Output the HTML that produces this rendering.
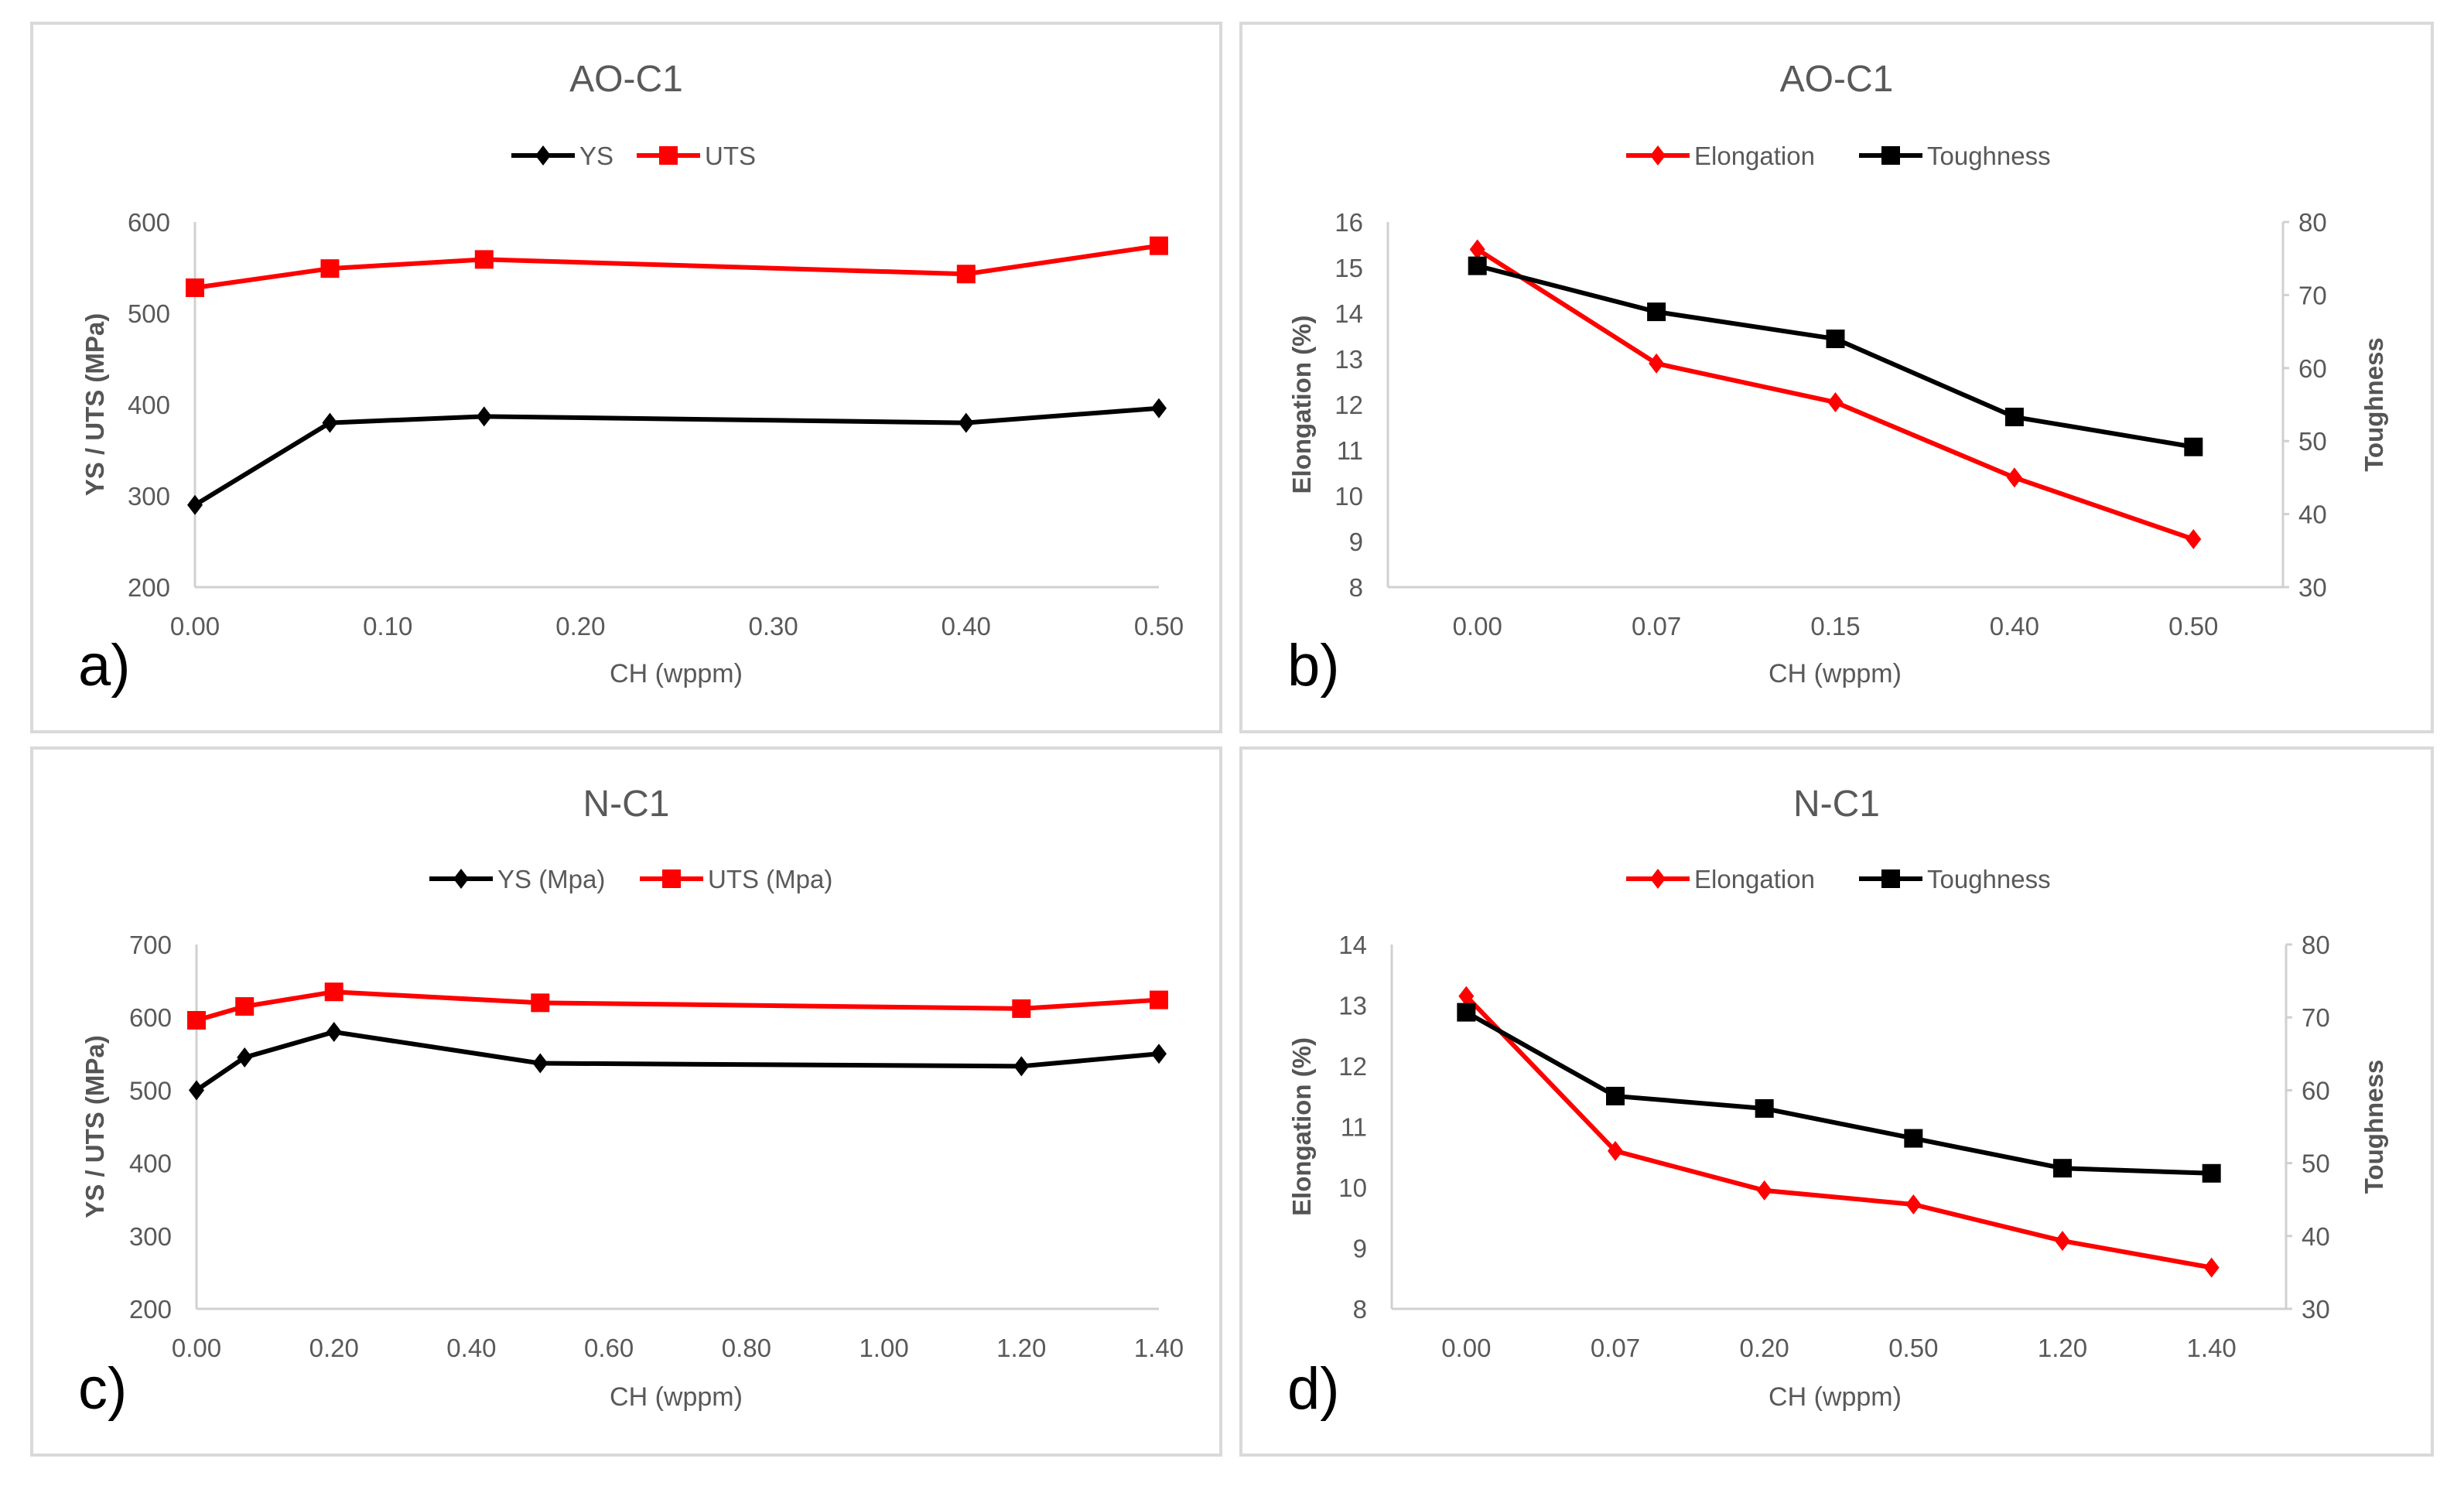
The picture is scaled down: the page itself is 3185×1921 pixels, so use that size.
<!DOCTYPE html>
<html><head><meta charset="utf-8"><style>
html,body{margin:0;padding:0;background:#fff;}
svg{display:block;}
text{font-family:"Liberation Sans",sans-serif;}
</style></head><body>
<svg id="fig" width="3185" height="1921" viewBox="0 0 3185 1921" xmlns="http://www.w3.org/2000/svg"></svg>
<script>
// Panel a data
const aX = [0, 0.07, 0.15, 0.40, 0.50];
const aYS = [290, 380, 387, 380, 396];
const aUTS = [528, 549, 559, 543, 574];
const aXTicks = ["0.00","0.10","0.20","0.30","0.40","0.50"];
const aYTicks = [200, 300, 400, 500, 600];
// Panel b data
const bCats = ["0.00","0.07","0.15","0.40","0.50"];
const bElong = [15.4, 12.9, 12.05, 10.4, 9.05];
const bTough = [74, 67.7, 64, 53.3, 49.2];
const bLeftTicks = [8,9,10,11,12,13,14,15,16];
const bRightTicks = [30,40,50,60,70,80];
// Panel c data
const cX = [0, 0.07, 0.20, 0.50, 1.20, 1.40];
const cYS = [500, 545, 580, 537, 533, 550];
const cUTS = [596, 615, 635, 620, 612, 624];
const cXTicks = ["0.00","0.20","0.40","0.60","0.80","1.00","1.20","1.40"];
const cYTicks = [200, 300, 400, 500, 600, 700];
// Panel d data
const dCats = ["0.00","0.07","0.20","0.50","1.20","1.40"];
const dElong = [13.15, 10.6, 9.95, 9.72, 9.12, 8.68];
const dTough = [70.7, 59.2, 57.5, 53.4, 49.3, 48.6];
const dLeftTicks = [8,9,10,11,12,13,14];
const dRightTicks = [30,40,50,60,70,80];

const NS = "http://www.w3.org/2000/svg";
const svg = document.getElementById("fig");
const GRAY = "#595959", AX = "#d0d0d0", RED = "#ff0000", BLK = "#000000";

function mk(tag, attrs, parent, txt){
  const e = document.createElementNS(NS, tag);
  for (const k in attrs) e.setAttribute(k, attrs[k]);
  if (txt !== undefined) e.textContent = txt;
  (parent || svg).appendChild(e);
  return e;
}
function marker(g, kind, x, y, color){
  let m;
  if (kind === "diamond") {
    m = mk("polygon", {points:`${x},${y-13} ${x+10},${y} ${x},${y+13} ${x-10},${y}`, fill:color}, g);
  } else {
    m = mk("rect", {x:x-12, y:y-12, width:24, height:24, fill:color}, g);
  }
  
  
}
function series(g, pts, color, kind, name){
  const s = mk("g", {}, g);
  
  
  mk("polyline", {points: pts.map(p=>p.join(",")).join(" "), fill:"none", stroke:color, "stroke-width":6, "stroke-linejoin":"round"}, s);
  pts.forEach(p => marker(s, kind, p[0], p[1], color));
}
function frame(P, name){
  const g = mk("g", {});
  
  
  const r = mk("rect", {x:P.bx, y:P.by, width:P.bw, height:P.bh, fill:"#fff", stroke:"#d9d9d9", "stroke-width":4}, g);
  
  
  const t = mk("text", {x:P.bx+P.bw/2, y:P.by+88, "text-anchor":"middle", "font-size":48, fill:GRAY}, g, P.title);
  
  
  P.legend.forEach(L => {
    const lg = mk("g", {}, g);
    
    
    mk("line", {x1:L.x, y1:P.ly, x2:L.x+82, y2:P.ly, stroke:L.color, "stroke-width":6}, lg);
    marker(lg, L.kind, L.x+41, P.ly, L.color);
    mk("text", {x:L.x+88, y:P.ly+12, "font-size":33, fill:GRAY}, lg, L.label);
  });
  const lab = mk("text", {x:P.bx+60, y:P.by+P.bh-60, "font-size":76, fill:"#000"}, g, P.letter);
  
  
  const xt = mk("text", {x:P.xtx, y:P.by+P.bh-64, "text-anchor":"middle", "font-size":34, fill:GRAY}, g, "CH (wppm)");
  
  
  return g;
}
function ytitle(g, txt, x, y, name){
  const t = mk("text", {x:x, y:y, "text-anchor":"middle", "font-size":33, "font-weight":"bold", "font-family":"DejaVu Sans, sans-serif", fill:"#555", transform:`rotate(-90 ${x} ${y})`}, g, txt);
  
  
}

function linearPanel(P, xs, ys1, ys2, xTicks, xMax, yTicks, yMin, yMax, name){
  const g = frame(P, name);
  const sx = v => P.x0 + (v/xMax)*(P.x1-P.x0);
  const sy = v => P.y1 - (v-yMin)/(yMax-yMin)*(P.y1-P.y0);
  mk("line", {x1:P.x0, y1:P.y0, x2:P.x0, y2:P.y1, stroke:AX, "stroke-width":3}, g);
  mk("line", {x1:P.x0, y1:P.y1, x2:P.x1, y2:P.y1, stroke:AX, "stroke-width":3}, g);
  yTicks.forEach(v => {
    const t = mk("text", {x:P.x0-32, y:sy(v)+12, "text-anchor":"end", "font-size":33, fill:GRAY}, g, v);
    
    
  });
  xTicks.forEach(s => {
    const t = mk("text", {x:sx(parseFloat(s)), y:P.y1+62, "text-anchor":"middle", "font-size":33, fill:GRAY}, g, s);
    
    
  });
  ytitle(g, "YS / UTS (MPa)", P.ytx, (P.y0+P.y1)/2, 'y-axis-title');
  series(g, xs.map((x,i)=>[sx(x), sy(ys2[i])]), RED, "square", 'uts-series');
  series(g, xs.map((x,i)=>[sx(x), sy(ys1[i])]), BLK, "diamond", 'ys-series');
}
function catPanel(P, cats, elong, tough, lt, rt, name){
  const g = frame(P, name);
  const n = cats.length, w = (P.x1-P.x0)/n;
  const sx = i => P.x0 + (i+0.5)*w;
  const lMin = lt[0], lMax = lt[lt.length-1], rMin = rt[0], rMax = rt[rt.length-1];
  const syl = v => P.y1 - (v-lMin)/(lMax-lMin)*(P.y1-P.y0);
  const syr = v => P.y1 - (v-rMin)/(rMax-rMin)*(P.y1-P.y0);
  mk("line", {x1:P.x0, y1:P.y0, x2:P.x0, y2:P.y1, stroke:AX, "stroke-width":3}, g);
  mk("line", {x1:P.x1, y1:P.y0, x2:P.x1, y2:P.y1, stroke:AX, "stroke-width":3}, g);
  mk("line", {x1:P.x0, y1:P.y1, x2:P.x1, y2:P.y1, stroke:AX, "stroke-width":3}, g);
  lt.forEach(v => {
    const t = mk("text", {x:P.x0-32, y:syl(v)+12, "text-anchor":"end", "font-size":33, fill:GRAY}, g, v);
    
    
  });
  rt.forEach(v => {
    mk("line", {x1:P.x1, y1:syr(v), x2:P.x1+8, y2:syr(v), stroke:AX, "stroke-width":3}, g);
    const t = mk("text", {x:P.x1+20, y:syr(v)+12, "text-anchor":"start", "font-size":33, fill:GRAY}, g, v);
    
    
  });
  cats.forEach((c,i) => {
    const t = mk("text", {x:sx(i), y:P.y1+62, "text-anchor":"middle", "font-size":33, fill:GRAY}, g, c);
    
    
  });
  ytitle(g, "Elongation (%)", P.ytx, (P.y0+P.y1)/2, 'left-y-axis-title');
  ytitle(g, "Toughness", P.rtx, (P.y0+P.y1)/2, 'right-y-axis-title');
  series(g, elong.map((v,i)=>[sx(i), syl(v)]), RED, "diamond", 'elongation-series');
  series(g, tough.map((v,i)=>[sx(i), syr(v)]), BLK, "square", 'toughness-series');
}

linearPanel({bx:41,by:30,bw:1537,bh:916,title:"AO-C1",letter:"a)",ly:201,xtx:874,ytx:134,
  x0:252,x1:1498,y0:287,y1:759,
  legend:[{x:661,label:"YS",color:BLK,kind:"diamond"},{x:823,label:"UTS",color:RED,kind:"square"}]},
  aX, aYS, aUTS, aXTicks, 0.5, aYTicks, 200, 600, 'panel-a');

catPanel({bx:1604,by:30,bw:1540,bh:916,title:"AO-C1",letter:"b)",ly:201,xtx:2372,ytx:1694,rtx:3080,
  x0:1794,x1:2951,y0:287,y1:759,
  legend:[{x:2102,label:"Elongation",color:RED,kind:"diamond"},{x:2403,label:"Toughness",color:BLK,kind:"square"}]},
  bCats, bElong, bTough, bLeftTicks, bRightTicks, 'panel-b');

linearPanel({bx:41,by:967,bw:1537,bh:914,title:"N-C1",letter:"c)",ly:1136,xtx:874,ytx:134,
  x0:254,x1:1498,y0:1221,y1:1692,
  legend:[{x:555,label:"YS (Mpa)",color:BLK,kind:"diamond"},{x:827,label:"UTS (Mpa)",color:RED,kind:"square"}]},
  cX, cYS, cUTS, cXTicks, 1.4, cYTicks, 200, 700, 'panel-c');

catPanel({bx:1604,by:967,bw:1540,bh:914,title:"N-C1",letter:"d)",ly:1136,xtx:2372,ytx:1694,rtx:3080,
  x0:1799,x1:2955,y0:1221,y1:1692,
  legend:[{x:2102,label:"Elongation",color:RED,kind:"diamond"},{x:2403,label:"Toughness",color:BLK,kind:"square"}]},
  dCats, dElong, dTough, dLeftTicks, dRightTicks, 'panel-d');
</script>
</body></html>
